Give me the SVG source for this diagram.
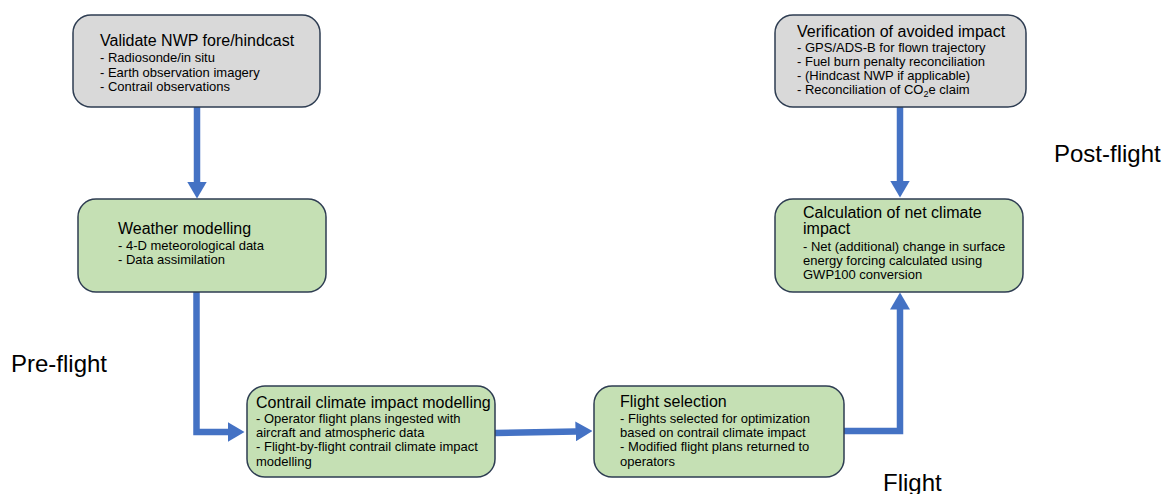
<svg xmlns="http://www.w3.org/2000/svg" width="1166" height="494" viewBox="0 0 1166 494">
<style>
.box{stroke:#2e3d52;stroke-width:1.5}
.gray{fill:#d9d9d9}
.green{fill:#c5e0b4}
text{font-family:"Liberation Sans",Arial,sans-serif;fill:#000}
.t{font-size:16px}
.b{font-size:13px}
.lbl{font-size:24px}
.arr{fill:none;stroke:#4472c4;stroke-width:6.5}
</style>
<defs>
<marker id="ah" viewBox="0 0 17 20" refX="0.5" refY="10" markerWidth="17" markerHeight="20" markerUnits="userSpaceOnUse" orient="auto">
<path d="M0,0 L17,10 L0,20 Z" fill="#4472c4"/>
</marker>
</defs>
<rect width="1166" height="494" fill="#fff"/>
<g id="connectors">
<path class="arr" d="M197,107 V182" marker-end="url(#ah)"/>
<path class="arr" d="M196.5,292 V432 H228" marker-end="url(#ah)"/>
<path class="arr" d="M495,433 L576,431.4" marker-end="url(#ah)"/>
<path class="arr" d="M843,431 H900 V309" marker-end="url(#ah)"/>
<path class="arr" d="M900,107 V181" marker-end="url(#ah)"/>
</g>
<g id="validate">
<rect class="box gray" x="73" y="15" width="247" height="92" rx="18"/>
<text class="t" x="100" y="46">Validate NWP fore/hindcast</text>
<text class="b" x="100" y="62">- Radiosonde/in situ</text>
<text class="b" x="100" y="76.5">- Earth observation imagery</text>
<text class="b" x="100" y="91">- Contrail observations</text>
</g>
<g id="verification">
<rect class="box gray" x="775" y="15" width="251" height="92" rx="18"/>
<text class="t" x="797" y="37">Verification of avoided impact</text>
<text class="b" x="797" y="52">- GPS/ADS-B for flown trajectory</text>
<text class="b" x="797" y="66">- Fuel burn penalty reconciliation</text>
<text class="b" x="797" y="80">- (Hindcast NWP if applicable)</text>
<text class="b" x="797" y="94">- Reconciliation of CO<tspan font-size="9" dy="3">2</tspan><tspan dy="-3">e claim</tspan></text>
</g>
<g id="weather">
<rect class="box green" x="78" y="199" width="248" height="93" rx="18"/>
<text class="t" x="118" y="234">Weather modelling</text>
<text class="b" x="118" y="250">- 4-D meteorological data</text>
<text class="b" x="118" y="264">- Data assimilation</text>
</g>
<g id="calculation">
<rect class="box green" x="775" y="199" width="248" height="93" rx="18"/>
<text class="t" x="803" y="218">Calculation of net climate</text>
<text class="t" x="803" y="234">impact</text>
<text class="b" x="803" y="251">- Net (additional) change in surface</text>
<text class="b" x="803" y="265">energy forcing calculated using</text>
<text class="b" x="803" y="279">GWP100 conversion</text>
</g>
<g id="contrail">
<rect class="box green" x="247" y="386" width="248" height="91" rx="18"/>
<text class="t" x="256" y="408">Contrail climate impact modelling</text>
<text class="b" x="256" y="422.5">- Operator flight plans ingested with</text>
<text class="b" x="256" y="437">aircraft and atmospheric data</text>
<text class="b" x="256" y="451">- Flight-by-flight contrail climate impact</text>
<text class="b" x="256" y="465.5">modelling</text>
</g>
<g id="selection">
<rect class="box green" x="594" y="386" width="250" height="91" rx="18"/>
<text class="t" x="620" y="407">Flight selection</text>
<text class="b" x="620" y="422.5">- Flights selected for optimization</text>
<text class="b" x="620" y="437">based on contrail climate impact</text>
<text class="b" x="620" y="451">- Modified flight plans returned to</text>
<text class="b" x="620" y="465.5">operators</text>
</g>
<g id="labels">
<text class="lbl" x="1054" y="162">Post-flight</text>
<text class="lbl" x="11" y="372">Pre-flight</text>
<text class="lbl" x="883" y="491">Flight</text>
</g>
</svg>
